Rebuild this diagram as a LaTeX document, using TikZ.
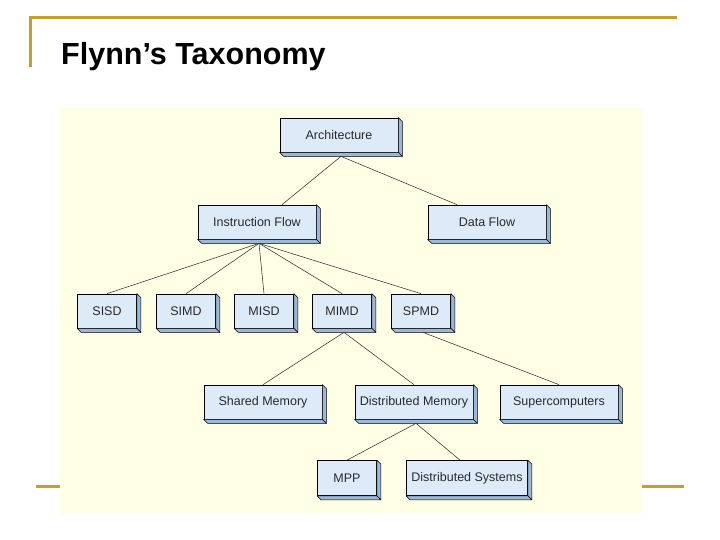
\documentclass[tikz,border=0pt]{standalone}
\usepackage{fontspec}
\setmainfont{Liberation Sans}
\usetikzlibrary{calc}
\definecolor{gold}{HTML}{C4A02A}
\definecolor{cream}{HTML}{FFFFE6}
\definecolor{front}{HTML}{DDEBF9}
\definecolor{side}{HTML}{9DB7D6}
\definecolor{txt}{HTML}{2A2A2A}
\definecolor{conn}{HTML}{333333}
\tikzset{
  x=1pt, y=-1pt,
  boxnode/.style={draw=black, line width=0.7pt, fill=front, text=txt,
    font=\fontsize{12.5}{14}\selectfont, inner sep=0pt,
    minimum width=118pt, minimum height=34pt},
  smallbox/.style={boxnode, minimum width=59pt},
  conline/.style={draw=conn, line width=0.55pt},
  goldline/.style={draw=gold, line width=3pt},
  extr/.style={draw=black, line width=0.6pt, fill=side, line join=round}
}
\begin{document}
\begin{tikzpicture}
\useasboundingbox (0,0) rectangle (720,540);
\fill[white] (0,0) rectangle (720,540);
% slide decorations
\draw[goldline] (30,18) -- (677,18);
\draw[goldline] (30,16.5) -- (30,67);
\draw[goldline] (36,486) -- (684,486);
\fill[cream] (60,108) rectangle (642,513);
\node[anchor=base west, inner sep=0pt, font=\bfseries\fontsize{30.5}{33}\selectfont] (title) at (61,65) {Flynn’s Taxonomy};
% boxes
\node[boxnode] (arch) at (339,135) {Architecture};
\node[boxnode] (ifl) at (257,222) {Instruction Flow};
\node[boxnode] (dfl) at (487,222) {Data Flow};
\node[smallbox] (sisd) at (107,311) {SISD};
\node[smallbox] (simd) at (186,311) {SIMD};
\node[smallbox] (misd) at (264,311) {MISD};
\node[smallbox] (mimd) at (342,311) {MIMD};
\node[smallbox] (spmd) at (421,311) {SPMD};
\node[boxnode] (sm) at (263,402) {Shared Memory};
\node[boxnode] (dm) at (414,402) {Distributed Memory};
\node[boxnode] (sc) at (559,402) {Supercomputers};
\node[smallbox, minimum height=35pt] (mpp) at (347,478) {MPP};
\node[boxnode, minimum width=121pt, minimum height=35pt] (ds) at (467,478) {Distributed Systems};
% extrusions
\foreach \n in {arch,ifl,dfl,sisd,simd,misd,mimd,spmd,sm,dm,sc,mpp,ds}{
  \draw[extr] (\n.north east) -- ([shift={(4,4)}]\n.north east) -- ([shift={(4,4)}]\n.south east) -- (\n.south east) -- cycle;
  \draw[extr] (\n.south west) -- (\n.south east) -- ([shift={(4,4)}]\n.south east) -- ([shift={(4,4)}]\n.south west) -- cycle;
}
% connectors
\draw[conline] ([shift={(2,4)}]arch.south) -- ([xshift=25]ifl.north);
\draw[conline] ([shift={(2,4)}]arch.south) -- ([xshift=-30]dfl.north);
\foreach \c in {sisd,simd,misd,mimd,spmd}
  \draw[conline] ([shift={(2,4)}]ifl.south) -- (\c.north);
\draw[conline] ([shift={(2,4)}]mimd.south) -- (sm.north);
\draw[conline] ([shift={(2,4)}]mimd.south) -- (dm.north);
\draw[conline] ([shift={(2,4)}]spmd.south) -- (sc.north);
\draw[conline] ([shift={(2,4)}]dm.south) -- (mpp.north);
\draw[conline] ([shift={(2,4)}]dm.south) -- ([xshift=-7]ds.north);
\end{tikzpicture}
\end{document}
